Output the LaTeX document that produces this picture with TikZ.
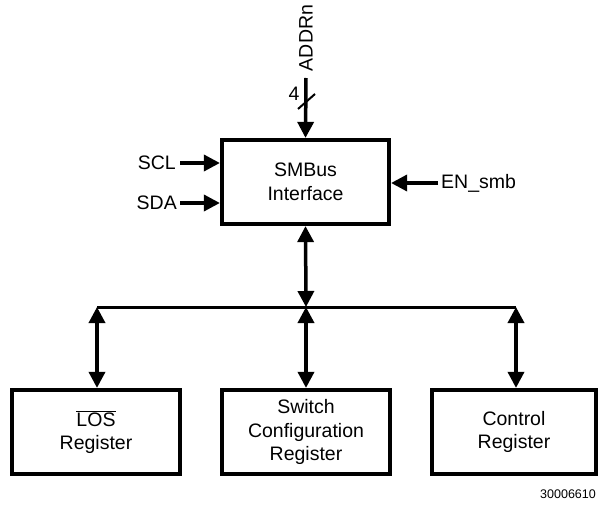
\documentclass[tikz,border=0pt]{standalone}
\usepackage{fontspec}
\setmainfont{Liberation Sans}
\usetikzlibrary{arrows.meta}
\begin{document}
\begin{tikzpicture}[x=1pt,y=-1pt,
  blk/.style={draw,line width=4.2pt,minimum height=84pt,inner sep=0pt,align=center,
    font=\fontsize{19.5}{23.5}\selectfont},
  lbl/.style={inner sep=0pt,font=\fontsize{19.5}{23.5}\selectfont},
  arr/.style={line width=3.5pt,-{Triangle[length=16pt,width=16pt]}},
  biarr/.style={line width=3.5pt,{Triangle[length=16pt,width=16pt]}-{Triangle[length=16pt,width=16pt]}},
  bus/.style={line width=3pt}]
\useasboundingbox (0,0) rectangle (598,511);
% main block
\node[blk,minimum width=167pt] (smb) at (305.5,182) {SMBus\\Interface};
% registers
\node[blk,minimum width=168pt] (los) at (96,432) {$\overline{\hbox{LOS}}$\\Register};
\node[blk,minimum width=168pt] (sw) at (306,432) {Switch\\Configuration\\Register};
\node[blk,minimum width=164pt] (ctl) at (514,432) {Control\\Register};
% bus
\coordinate (bl) at (97,307);
\coordinate (bm) at (306,307);
\coordinate (br) at (516,307);
\draw[bus] (bl) -- (br);
\draw[biarr] (smb.south) -- (bm);
\draw[biarr] (bl) -- (bl |- los.north);
\draw[biarr] (bm) -- (bm |- sw.north);
\draw[biarr] (br) -- (br |- ctl.north);
% address input
\coordinate (addr) at (306,78);
\draw[arr] (addr) -- (smb.north);
\node[lbl,rotate=90] (addrlbl) at (306,38) {ADDRn};
\draw[line width=2pt] (298,109) -- (315,94);
\node[lbl] (four) at (294,94) {4};
% side inputs
\node[lbl,anchor=east] (scl) at (176,163) {SCL};
\node[lbl,anchor=east] (sda) at (177,203) {SDA};
\node[lbl,anchor=west] (en) at (441,183) {EN\_smb};
\draw[arr] ([xshift=4pt]scl.east) -- (scl.east -| smb.west);
\draw[arr] ([xshift=3pt]sda.east) -- (sda.east -| smb.west);
\draw[arr] ([xshift=-3pt]en.west) -- (en.west -| smb.east);
% figure number
\node[inner sep=0pt,anchor=base west,font=\fontsize{12.5}{15}\selectfont] (fig) at (540,498) {30006610};
\end{tikzpicture}
\end{document}
